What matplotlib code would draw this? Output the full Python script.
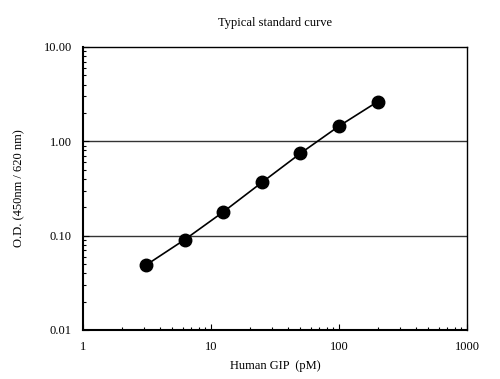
import matplotlib
matplotlib.use('Agg')
import matplotlib.pyplot as plt
from matplotlib.ticker import FixedLocator, LogLocator, NullFormatter

# Standard curve data
conc_pm = [3.125, 6.25, 12.5, 25, 50, 100, 200]
od_values = [0.049, 0.091, 0.179, 0.367, 0.746, 1.45, 2.63]

x_ticks = [1, 10, 100, 1000]
x_tick_labels = ['1', '10', '100', '1000']
y_ticks = [0.01, 0.1, 1, 10]
y_tick_labels = ['0.01', '0.10', '1.00', '10.00']

plt.rcParams['font.family'] = ['Liberation Serif', 'DejaVu Serif']

fig = plt.figure(figsize=(5, 3.79), dpi=100)
ax = fig.add_axes([0.166, 0.1293, 0.768, 0.7467])

ax.set_xscale('log')
ax.set_yscale('log')
ax.set_xlim(1, 1000)
ax.set_ylim(0.01, 10)

# horizontal grid at the major y ticks
for y in [0.1, 1]:
    ax.axhline(y, color='#333333', linewidth=1.0, zorder=1)

ax.plot(conc_pm, od_values, color='black', linewidth=1.2, marker='o',
        markersize=9, markerfacecolor='black', zorder=3)

ax.xaxis.set_major_locator(FixedLocator(x_ticks))
ax.set_xticklabels(x_tick_labels)
ax.yaxis.set_major_locator(FixedLocator(y_ticks))
ax.set_yticklabels(y_tick_labels)
ax.xaxis.set_minor_locator(LogLocator(base=10, subs=range(2, 10)))
ax.yaxis.set_minor_locator(LogLocator(base=10, subs=range(2, 10)))
ax.xaxis.set_minor_formatter(NullFormatter())
ax.yaxis.set_minor_formatter(NullFormatter())

ax.tick_params(which='both', direction='in', top=False, right=False,
               labelsize=9, width=0.8)
ax.tick_params(which='major', length=4)
ax.tick_params(which='minor', length=2)
ax.tick_params(axis='x', pad=8)
ax.tick_params(axis='y', pad=8)

for side in ['left', 'bottom']:
    ax.spines[side].set_linewidth(1.5)
for side in ['top', 'right']:
    ax.spines[side].set_linewidth(1.0)

ax.set_title('Typical standard curve', fontsize=9, pad=15)
ax.set_xlabel('Human GIP  (pM)', fontsize=9, labelpad=5)
ax.set_ylabel('O.D. (450nm / 620 nm)', fontsize=9, labelpad=13)

fig.savefig('out.png', dpi=100)
